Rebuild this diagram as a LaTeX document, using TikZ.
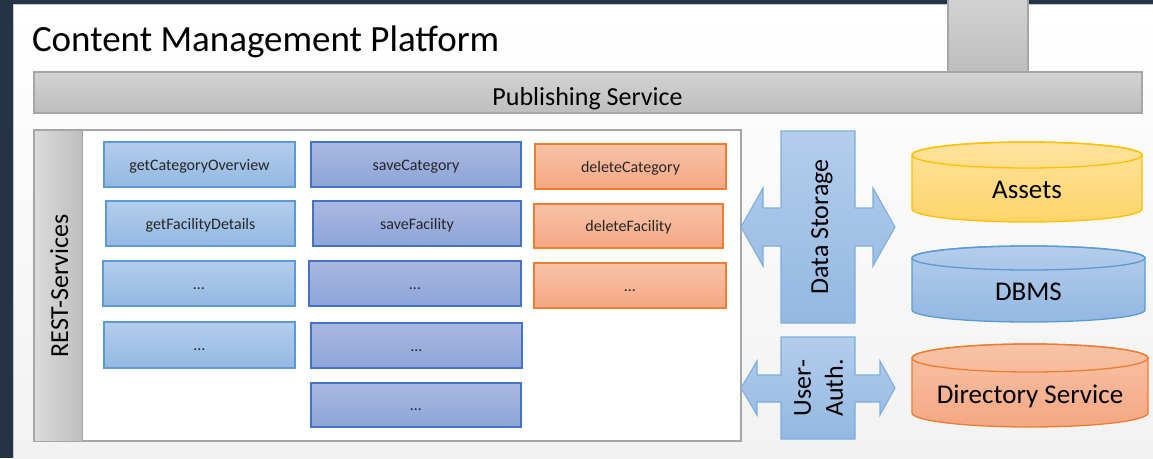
\documentclass[tikz,border=0pt]{standalone}
\usepackage{fontspec}
\setmainfont{Carlito}
\usetikzlibrary{calc}

% palette
\definecolor{slate}{HTML}{243447}
\definecolor{panelbot}{HTML}{F2F2F2}
\definecolor{panelline}{HTML}{C8C8C8}
\definecolor{greytop}{HTML}{D2D2D2}
\definecolor{greybot}{HTML}{BEBEBE}
\definecolor{greyline}{HTML}{A6A6A6}
\definecolor{lbluetop}{HTML}{B4CDEB}
\definecolor{lbluebot}{HTML}{93B8E2}
\definecolor{lblueline}{HTML}{5B9BD5}
\definecolor{purptop}{HTML}{A9B8E1}
\definecolor{purpbot}{HTML}{8DA5D9}
\definecolor{purpline}{HTML}{4472C4}
\definecolor{ortop}{HTML}{F8C3A7}
\definecolor{orbot}{HTML}{F4A783}
\definecolor{orline}{HTML}{ED7D31}
\definecolor{yeltop}{HTML}{FFE39F}
\definecolor{yelbot}{HTML}{FFD469}
\definecolor{yelline}{HTML}{FFC000}

% drum: #1 name, #2 left x, #3 right x, #4 top-centre y, #5 bottom-centre y,
% #6 half height of the end ellipse, #7 style prefix, #8 baseline y, #9 label
\newcommand{\drum}[9]{%
  \pgfmathsetmacro{\drx}{(#3-#2)/2}%
  \pgfmathsetmacro{\drc}{(#3+#2)/2}%
  \path[#7fill, #7line] (#2,#4) -- (#2,#5)
     arc[start angle=180, end angle=360, x radius=\drx pt, y radius=#6pt]
     -- (#3,#4)
     arc[start angle=0, end angle=180, x radius=\drx pt, y radius=#6pt] -- cycle;
  \draw[#7line] (\drc,#4) ellipse[x radius=\drx pt, y radius=#6pt];
  \node[drumtext, anchor=base] (#1) at (\drc,#8) {#9};
}

\begin{document}
\begin{tikzpicture}[x=1pt, y=-1pt,
  every node/.style={inner sep=0pt, outer sep=0pt},
  svc/.style={draw, line width=1.1pt, minimum height=45pt,
    text height=14pt, text depth=3pt,
    font=\fontsize{16}{18}\selectfont, text=black!85},
  readsvc/.style={svc, draw=lblueline, top color=lbluetop, bottom color=lbluebot},
  savesvc/.style={svc, draw=purpline, top color=purptop, bottom color=purpbot},
  delsvc/.style={svc, draw=orline, top color=ortop, bottom color=orbot},
  greybar/.style={draw=greyline, line width=1.5pt, top color=greytop, bottom color=greybot},
  bigtext/.style={font=\fontsize{26}{32}\selectfont, text=black},
  drumtext/.style={font=\fontsize{27}{32}\selectfont, text=black},
  arrowshape/.style={draw=lblueline!80, line width=1.1pt, top color=lbluetop, bottom color=lbluebot, line join=miter},
  assetsline/.style={draw=yelline, line width=1.3pt},
  assetsfill/.style={top color=yeltop, bottom color=yelbot},
  dbmsline/.style={draw=lblueline, line width=1.3pt},
  dbmsfill/.style={top color=lbluetop, bottom color=lbluebot},
  dirline/.style={draw=orline, line width=1.3pt},
  dirfill/.style={top color=ortop, bottom color=orbot},
]
\useasboundingbox (0,0) rectangle (1153,458);

% backdrop and platform panel
\fill[slate] (0,0) rectangle (1153,458);
\shade[top color=white, bottom color=panelbot] (13,4) rectangle (1153,458);
\draw[panelline, line width=0.8pt] (13,458) -- (13,4) -- (1153,4);

\node[anchor=base west, font=\fontsize{37}{44}\selectfont] (title) at (32,51) {Content Management Platform};

% publishing service bar with its uplink stub
\path[greybar] (948,-2) rectangle (1028,72);
\node[greybar, minimum width=1108pt, minimum height=41pt] (pub) at (588,92.5) {};
\node[bigtext, anchor=base] (pubtext) at (587.5,105) {Publishing Service};

% REST services container
\node[draw=greyline, line width=2pt, fill=white, minimum width=707pt, minimum height=311pt] (rest) at (387.5,285.5) {};
\shade[left color=greytop!80!white, right color=greybot] ($(rest.north west)+(1,1)$) rectangle ($(rest.south west)+(48,-1)$);
\draw[greyline, line width=1pt] ($(rest.north west)+(48,1)$) -- ($(rest.south west)+(48,-1)$);
\node[bigtext, rotate=90, anchor=base] (resttext) at (68,286) {REST-Services};

% read services
\node[readsvc, minimum width=191pt] (r1) at (199.5,164.5) {getCategoryOverview};
\node[readsvc, minimum width=189pt] (r2) at (200.5,223.5) {getFacilityDetails};
\node[readsvc, minimum width=192pt] (r3) at (199,283.5) {…};
\node[readsvc, minimum width=191pt, minimum height=46pt] (r4) at (199.5,345) {…};

% save services
\node[savesvc, minimum width=210pt] (s1) at (416,164.5) {saveCategory};
\node[savesvc, minimum width=208pt] (s2) at (417,223.5) {saveFacility};
\node[savesvc, minimum width=212pt] (s3) at (415,283.5) {…};
\node[savesvc, minimum width=211pt] (s4) at (416.5,345.5) {…};
\node[savesvc, minimum width=210pt, minimum height=44pt] (s5) at (416,405) {…};

% delete services
\node[delsvc, minimum width=191pt] (d1) at (630.5,166.5) {deleteCategory};
\node[delsvc, minimum width=189pt, minimum height=44pt] (d2) at (628.5,226) {deleteFacility};
\node[delsvc, minimum width=192pt] (d3) at (630,285.5) {…};

% data storage double arrow
\path[arrowshape] (781,131) -- (855,131) -- (855,208) -- (873,208) -- (873,188)
  -- (895,227) -- (873,266) -- (873,246) -- (855,246) -- (855,323) -- (781,323)
  -- (781,246) -- (763,246) -- (763,266) -- (741,227) -- (763,188) -- (763,208)
  -- (781,208) -- cycle;
\node[bigtext, rotate=90, anchor=base] (storage) at (828,227) {Data Storage};

% user authentication double arrow
\path[arrowshape] (781,337) -- (855,337) -- (855,375) -- (880,375) -- (880,361)
  -- (895,388) -- (880,415) -- (880,402) -- (855,402) -- (855,439) -- (781,439)
  -- (781,402) -- (757,402) -- (757,415) -- (741,388) -- (757,361) -- (757,375)
  -- (781,375) -- cycle;
\node[bigtext, rotate=90, align=center] (auth) at (818.5,388) {User-\\Auth.};

% back-end stores
\drum{assets}{912}{1142}{155}{209}{13}{assets}{198}{Assets}
\drum{dbms}{912}{1145}{258}{310}{12}{dbms}{300}{DBMS}
\drum{dirsvc}{912}{1148}{358}{413}{14}{dir}{403}{Directory Service}
\end{tikzpicture}
\end{document}
